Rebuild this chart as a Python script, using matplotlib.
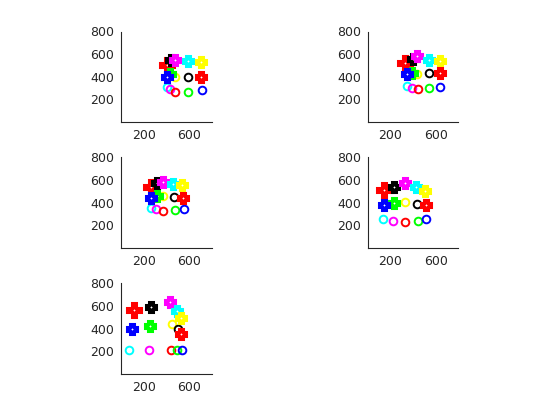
import matplotlib
matplotlib.use('Agg')
import matplotlib.pyplot as plt

# colores de los marcadores (cruces rellenas y circulos abiertos)
plus_colors = ['red', 'black', 'magenta', 'cyan', 'yellow', 'lime', 'blue', 'red']
circle_colors = ['yellow', 'black', 'cyan', 'magenta', 'red', 'lime', 'blue']

# un juego de datos por panel (x, y)
plus_x = [
    [405, 441, 477, 592, 707, 435, 405, 707],
    [333, 395, 434, 540, 636, 394, 342, 636],
    [265, 320, 365, 456, 541, 314, 265, 547],
    [140, 228, 333, 427, 509, 231, 146, 515],
    [117, 265, 435, 490, 526, 253, 98, 532],
]
plus_y = [
    [506, 545, 552, 543, 530, 422, 400, 400],
    [522, 558, 582, 552, 536, 437, 425, 431],
    [540, 576, 582, 561, 552, 455, 440, 445],
    [509, 539, 575, 539, 500, 400, 379, 379],
    [560, 590, 630, 551, 490, 418, 400, 354],
]
circle_x = [
    [471, 592, 405, 429, 471, 592, 713],
    [434, 540, 349, 388, 440, 540, 636],
    [371, 462, 265, 310, 371, 471, 553],
    [333, 434, 137, 222, 333, 440, 515],
    [447, 502, 71, 247, 441, 495, 538],
]
circle_y = [
    [400, 400, 309, 288, 264, 270, 279],
    [425, 431, 318, 304, 288, 300, 309],
    [455, 449, 349, 340, 327, 333, 340],
    [409, 385, 252, 242, 233, 242, 252],
    [440, 394, 206, 206, 212, 212, 206],
]

xticks = [200, 600]
yticks = [200, 400, 600, 800]

plt.rcParams['font.family'] = ['DejaVu Sans']

fig = plt.figure(figsize=(5.6, 4.2), dpi=100)

# posiciones tipo subplot(3,2,k) de MATLAB
lefts = [0.13, 0.5703, 0.13, 0.5703, 0.13]
bottoms = [0.7093, 0.7093, 0.4096, 0.4096, 0.11]

for k in range(5):
    ax = fig.add_axes([lefts[k], bottoms[k], 0.3347, 0.2157])

    for j in range(len(circle_colors)):
        ax.plot(circle_x[k][j], circle_y[k][j], 'o', ms=5.5, mfc='none',
                mec=circle_colors[j], mew=1.4)

    for j in range(len(plus_colors)):
        size = 9.5 if j == 0 else 7
        ax.plot(plus_x[k][j], plus_y[k][j], 'P', ms=size, color=plus_colors[j],
                mec=plus_colors[j], mew=2.2, solid_joinstyle='round')
        ax.plot(plus_x[k][j], plus_y[k][j], '+', ms=1.8, color='white', mew=0.6)

    ax.set_xlim(0, 800)
    ax.set_ylim(0, 800)
    ax.set_aspect('equal', adjustable='box')
    ax.set_xticks(xticks)
    ax.set_yticks(yticks)
    ax.spines['top'].set_visible(False)
    ax.spines['right'].set_visible(False)
    for s in ['left', 'bottom']:
        ax.spines[s].set_linewidth(0.8)
        ax.spines[s].set_color('#262626')
    ax.tick_params(length=0, labelsize=9, colors='#262626', pad=5)

plt.savefig('out.png', dpi=100)
plt.close()
